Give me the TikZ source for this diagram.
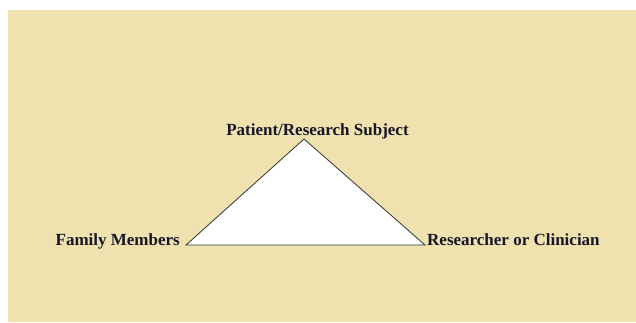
\documentclass[tikz,border=0pt]{standalone}
\usepackage{fontspec}
\setmainfont{Liberation Serif}
\definecolor{paper}{RGB}{239,226,174}
\definecolor{ink}{RGB}{22,22,40}

\begin{document}
\begin{tikzpicture}[x=1pt, y=-1pt,
    label text/.style={inner sep=0pt, text=ink, font=\fontsize{17}{19}\selectfont\bfseries}]
    \useasboundingbox (0,0) rectangle (636,322);
    % 背景
    \fill[paper] (8,10) rectangle (636,322);

    % 三角形の頂点
    \coordinate (apex) at (304,139);
    \coordinate (family) at (186,245);
    \coordinate (researcher) at (425,245);

    % 三角形（白塗り）
    \draw[black!80, line width=0.8pt, fill=white, line join=miter] (apex) -- (family) -- (researcher) -- cycle;

    % 各頂点のラベル
    \node[label text, anchor=base] (patientlabel) at (317.5,135) {Patient/Research Subject};
    \node[label text, anchor=base east] (familylabel) at (180,245) {Family Members};
    \node[label text, anchor=base west] (researcherlabel) at (427,245) {Researcher or Clinician};
\end{tikzpicture}
\end{document}
